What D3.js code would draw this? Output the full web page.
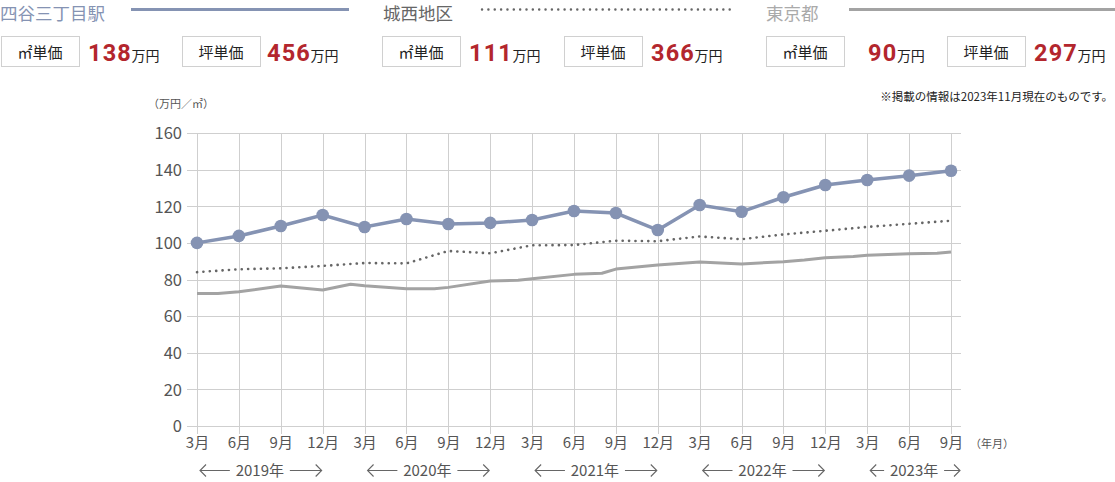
<!DOCTYPE html>
<html>
<head>
<meta charset="utf-8">
<script src="https://cdn.jsdelivr.net/npm/d3@7"></script>
<style>
  body { margin: 0; background: #fff; }
  svg text { font-family: "Noto Sans CJK JP", "Noto Sans", sans-serif; }
</style>
</head>
<body>
<div id="chart"></div>
<script>
// ---- data ----
const quarterLabels = ["3月", "6月", "9月", "12月", "3月", "6月", "9月", "12月", "3月", "6月",
    "9月", "12月", "3月", "6月", "9月", "12月", "3月", "6月", "9月"];
const years = ["2019年", "2020年", "2021年", "2022年", "2023年"];
const yearStartQ = [0, 4, 8, 12, 16];
const yearEndQ = [3, 7, 11, 15, 18];

// 四谷三丁目駅 (quarterly, 万円/㎡)
const yotsuya = [100, 103.8, 109.2, 115.2, 108.7, 113, 110.3, 110.9, 112.5, 117.4,
    116.3, 107, 120.7, 117, 124.9, 131.6, 134.3, 136.7, 139.4];
// 城西地区 (quarterly)
const josai = [84, 85.6, 86.1, 87.4, 89, 88.8, 95.6, 94.3, 98.7, 98.8,
    101.2, 100.9, 103.5, 102, 104.6, 106.6, 108.7, 110.4, 112.1];
// 東京都 (irregular months counted from 2019年3月)
const tokyoMonths = [0, 1.5, 3, 6, 9, 11, 12, 15, 17, 18, 21, 23, 24, 27, 29, 30, 33, 36, 39, 42, 43.5, 45, 47, 48, 51, 53, 54];
const tokyo = [72.3, 72.3, 73.3, 76.4, 74.3, 77.4, 76.6, 75.0, 75.0, 75.7, 79.2, 79.6, 80.4, 82.8, 83.4, 85.7, 87.9, 89.6, 88.5, 89.7, 90.6, 91.9, 92.5, 93.2, 94.1, 94.3, 95.0];

const yTicks = [0, 20, 40, 60, 80, 100, 120, 140, 160];

// header summary
const areaNames = ["四谷三丁目駅", "城西地区", "東京都"];
const sqmPrice = ["138", "111", "90"];
const tsuboPrice = ["456", "366", "297"];

const width = 1115, height = 482;
const svg = d3.select("#chart").append("svg")
    .attr("width", width).attr("height", height);

const colBlue = "#8593b3", colDot = "#666", colGray = "#a3a3a3";
const red = "#b3262d";

// ---- header legend ----
const legendX = [0, 383, 766];
const legendLine = [[131, 349], [482, 732], [849, 1115]];
const legendColor = [colBlue, "#666", "#aaa"];
areaNames.forEach((n, i) => {
    svg.append("text").attr("x", legendX[i]).attr("y", 20)
        .attr("font-size", 17.5).attr("fill", legendColor[i]).text(n);
});
svg.append("line").attr("x1", legendLine[0][0]).attr("x2", legendLine[0][1])
    .attr("y1", 9.5).attr("y2", 9.5).attr("stroke", colBlue).attr("stroke-width", 3);
svg.append("line").attr("x1", legendLine[1][0]).attr("x2", legendLine[1][1])
    .attr("y1", 9.5).attr("y2", 9.5).attr("stroke", colDot).attr("stroke-width", 2.4)
    .attr("stroke-linecap", "round").attr("stroke-dasharray", "0.1 6.25");
svg.append("line").attr("x1", legendLine[2][0]).attr("x2", legendLine[2][1])
    .attr("y1", 9.5).attr("y2", 9.5).attr("stroke", colGray).attr("stroke-width", 3);

const boxStarts = [[1, 182], [382, 564], [766, 947]];
const valueGap = [[8, 6], [8, 8], [23, 8]];
areaNames.forEach((n, i) => {
    [["㎡単価", sqmPrice[i]], ["坪単価", tsuboPrice[i]]].forEach((pair, j) => {
        const bx = boxStarts[i][j];
        svg.append("rect").attr("x", bx + 0.5).attr("y", 36.5).attr("width", 78).attr("height", 30)
            .attr("fill", "#fff").attr("stroke", "#d0d0d0");
        svg.append("text").attr("x", bx + 39).attr("y", 58).attr("text-anchor", "middle")
            .attr("font-size", 15).attr("fill", "#222").text(pair[0]);
        const t = svg.append("text").attr("x", bx + 79 + valueGap[i][j]).attr("y", 61);
        t.append("tspan").attr("font-size", 23.5).attr("font-weight", "bold")
            .attr("letter-spacing", 1.2)
            .attr("fill", red).attr("font-family", "Roboto, sans-serif").text(pair[1]);
        t.append("tspan").attr("font-size", 14).attr("fill", "#222").attr("dx", -0.5).text("万円");
    });
});

svg.append("text").attr("x", 1113).attr("y", 101).attr("text-anchor", "end")
    .attr("font-size", 11.5).attr("fill", "#222").text("※掲載の情報は2023年11月現在のものです。");

// ---- chart ----
const x = d3.scaleLinear().domain([0, 54]).range([197, 951]);
const y = d3.scaleLinear().domain([0, 160]).range([426, 133]);
const qx = i => x(i * 3);

// grid
svg.append("g").selectAll("line").data(yTicks).join("line")
    .attr("x1", 187).attr("x2", 961)
    .attr("y1", d => Math.round(y(d)) + 0.5).attr("y2", d => Math.round(y(d)) + 0.5)
    .attr("stroke", "#cfcfcf");
svg.append("g").selectAll("line").data(quarterLabels).join("line")
    .attr("x1", (d, i) => Math.round(qx(i)) + 0.5).attr("x2", (d, i) => Math.round(qx(i)) + 0.5)
    .attr("y1", y(160)).attr("y2", 434)
    .attr("stroke", "#cfcfcf");

// y labels
const yAxis = d3.axisLeft(y).tickValues(yTicks).tickSize(0).tickPadding(0);
const yg = svg.append("g").attr("transform", "translate(182,0)").call(yAxis);
yg.select(".domain").remove();
yg.selectAll("text").attr("font-size", 16.5).attr("fill", "#555")
    .attr("font-family", "Roboto, sans-serif").attr("dy", "0.35em");

svg.append("text").attr("x", 148).attr("y", 108).attr("font-size", 11).attr("fill", "#555").text("（万円／㎡）");

// x labels
const xg = svg.append("g").attr("transform", "translate(0,448)")
    .call(d3.axisBottom(d3.scalePoint().domain(d3.range(19)).range([x(0), x(54)]))
        .tickSize(0).tickPadding(0).tickFormat(i => quarterLabels[i]));
xg.select(".domain").remove();
xg.selectAll("text").attr("font-size", 15).attr("fill", "#555").attr("dy", 0);
svg.append("text").attr("x", 970).attr("y", 448).attr("font-size", 11).attr("fill", "#555").text("（年月）");

// year ranges with arrows
years.forEach((yr, i) => {
    const x0 = qx(yearStartQ[i]), x1 = qx(yearEndQ[i]);
    const cx = (x0 + x1) / 2 + (i === 4 ? 5 : 0);
    const half = 26;
    svg.append("text").attr("x", cx).attr("y", 476).attr("text-anchor", "middle")
        .attr("font-size", 15).attr("fill", "#555").text(yr);
    const ay = 470.5;
    const la = x0 + 3, lb = cx - half - 4;
    const ra = cx + half + 4, rb = x1 + (i === 4 ? 10 : 0) - 1;
    svg.append("path")
        .attr("d", `M${lb},${ay}H${la}M${la + 6},${ay - 6}L${la},${ay}L${la + 6},${ay + 6}`)
        .attr("fill", "none").attr("stroke", "#666").attr("stroke-width", 1.1);
    svg.append("path")
        .attr("d", `M${ra},${ay}H${rb}M${rb - 6},${ay - 6}L${rb},${ay}L${rb - 6},${ay + 6}`)
        .attr("fill", "none").attr("stroke", "#666").attr("stroke-width", 1.1);
});

// lines
const tokyoLine = d3.line().x((d, i) => x(tokyoMonths[i])).y(d => y(d));
svg.append("path").datum(tokyo).attr("d", tokyoLine)
    .attr("fill", "none").attr("stroke", colGray).attr("stroke-width", 3).attr("stroke-linejoin", "round");

const qLine = d3.line().x((d, i) => qx(i)).y(d => y(d));
svg.append("path").datum(josai).attr("d", qLine)
    .attr("fill", "none").attr("stroke", colDot).attr("stroke-width", 2.6)
    .attr("stroke-linecap", "round").attr("stroke-dasharray", "0.1 6.3");

svg.append("path").datum(yotsuya).attr("d", qLine)
    .attr("fill", "none").attr("stroke", colBlue).attr("stroke-width", 3.5);
svg.append("g").selectAll("circle").data(yotsuya).join("circle")
    .attr("cx", (d, i) => qx(i)).attr("cy", d => y(d)).attr("r", 6.3)
    .attr("fill", colBlue);
</script>
</body>
</html>
